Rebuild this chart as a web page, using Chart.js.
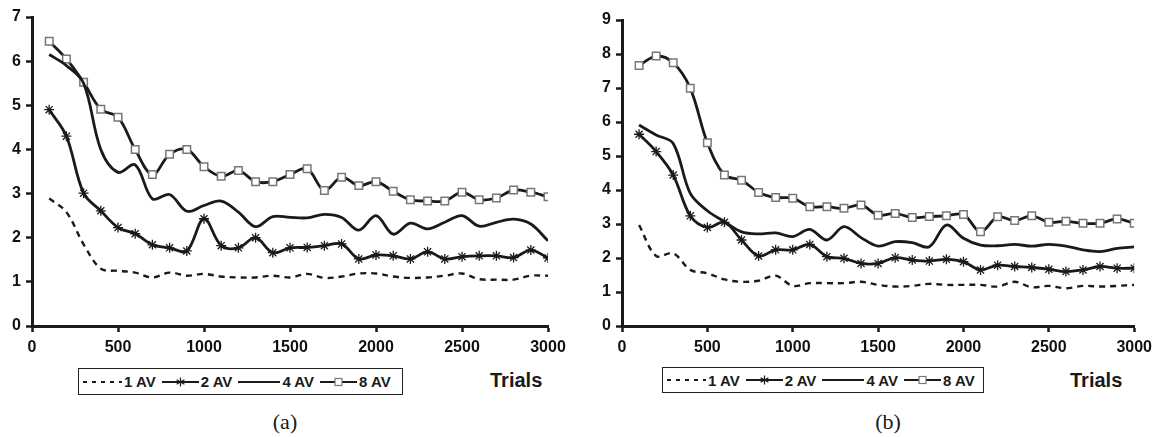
<!DOCTYPE html>
<html>
<head>
<meta charset="utf-8">
<script src="https://cdn.jsdelivr.net/npm/chart.js@4.4.1/dist/chart.umd.min.js"></script>
<style>
  body { margin: 0; background: #fff; width: 1158px; height: 437px; position: relative; overflow: hidden;
         font-family: "Liberation Sans", Arial, sans-serif; color: #1a1a1a; }
  canvas { position: absolute; top: 0; }
  .legend { position: absolute; box-sizing: border-box; border: 1.5px solid #222; display: flex; align-items: center;
            padding-left: 3px; font-weight: bold; font-size: 15px; white-space: nowrap; }
  .legend svg { margin-right: 2px; }
  .legend span { margin-right: 6px; }
  .trials { position: absolute; font-weight: bold; font-size: 20px; line-height: 20px; }
  .caption { position: absolute; font-family: "Liberation Serif", "Times New Roman", serif; font-size: 22px;
             line-height: 24px; transform: translateX(-50%); }
</style>
</head>
<body>
<canvas id="chartA" width="575" height="362" style="left:0px"></canvas>
<canvas id="chartB" width="578" height="362" style="left:580px"></canvas>

<div class="legend" id="legendA" style="left:78px;top:368px;width:325px;height:27px"></div>
<div class="legend" id="legendB" style="left:662px;top:367px;width:322px;height:26px"></div>
<div class="trials" style="left:490px;top:370px">Trials</div>
<div class="trials" style="left:1070px;top:370px">Trials</div>
<div class="caption" style="left:285px;top:410px">(a)</div>
<div class="caption" style="left:888px;top:410px">(b)</div>

<script>
const trials = [100, 200, 300, 400, 500, 600, 700, 800, 900, 1000,
                1100, 1200, 1300, 1400, 1500, 1600, 1700, 1800, 1900, 2000,
                2100, 2200, 2300, 2400, 2500, 2600, 2700, 2800, 2900, 3000];
const seriesLabels = ["1 AV", "2 AV", "4 AV", "8 AV"];

// panel (a)
const av1A = [2.89, 2.58, 1.85, 1.3, 1.25, 1.21, 1.1, 1.21, 1.14, 1.18, 1.12, 1.1, 1.1, 1.14, 1.1,
              1.18, 1.09, 1.12, 1.19, 1.19, 1.12, 1.09, 1.1, 1.14, 1.19, 1.06, 1.05, 1.05, 1.14, 1.14];
const av2A = [4.9, 4.3, 3.01, 2.61, 2.23, 2.09, 1.84, 1.77, 1.7, 2.43, 1.82, 1.77, 2.0, 1.66, 1.77,
              1.78, 1.82, 1.86, 1.52, 1.61, 1.59, 1.52, 1.68, 1.52, 1.57, 1.59, 1.59, 1.55, 1.72, 1.54];
const av4A = [6.15, 5.9, 5.5, 4.0, 3.48, 3.65, 2.88, 2.98, 2.6, 2.73, 2.83, 2.58, 2.25, 2.48, 2.46,
              2.45, 2.53, 2.46, 2.17, 2.5, 2.08, 2.33, 2.2, 2.35, 2.5, 2.26, 2.35, 2.42, 2.31, 1.93];
const av8A = [6.45, 6.05, 5.52, 4.91, 4.73, 4.0, 3.43, 3.89, 4.0, 3.61, 3.39, 3.52, 3.27, 3.27, 3.43,
              3.56, 3.07, 3.37, 3.18, 3.27, 3.05, 2.86, 2.83, 2.83, 3.03, 2.86, 2.9, 3.08, 3.03, 2.93];

// panel (b)
const av1B = [2.97, 2.06, 2.14, 1.65, 1.55, 1.37, 1.3, 1.33, 1.48, 1.18, 1.26, 1.26, 1.26, 1.3, 1.21,
              1.16, 1.18, 1.24, 1.21, 1.21, 1.21, 1.16, 1.3, 1.14, 1.18, 1.11, 1.18, 1.16, 1.18, 1.21];
const av2B = [5.64, 5.13, 4.44, 3.24, 2.9, 3.05, 2.53, 2.06, 2.24, 2.24, 2.4, 2.04, 1.99, 1.84, 1.84,
              2.01, 1.94, 1.91, 1.96, 1.89, 1.65, 1.79, 1.75, 1.72, 1.67, 1.6, 1.65, 1.75, 1.7, 1.7];
const av4B = [5.91, 5.62, 5.37, 3.9, 3.39, 3.07, 2.77, 2.71, 2.74, 2.63, 2.84, 2.53, 2.92, 2.6, 2.35,
              2.48, 2.45, 2.33, 2.97, 2.58, 2.38, 2.36, 2.4, 2.35, 2.4, 2.35, 2.24, 2.19, 2.28, 2.33];
const av8B = [7.66, 7.94, 7.74, 6.99, 5.39, 4.44, 4.29, 3.93, 3.78, 3.76, 3.51, 3.51, 3.46, 3.56, 3.26,
              3.31, 3.19, 3.22, 3.24, 3.28, 2.77, 3.21, 3.1, 3.24, 3.05, 3.08, 3.02, 3.02, 3.15, 3.02];

const ink = "#1a1a1a";
Chart.defaults.font.family = "'Liberation Sans', Arial, sans-serif";
Chart.defaults.font.size = 16;
Chart.defaults.font.weight = 700;
Chart.defaults.color = "#111";

const toPoints = vals => trials.map((t, i) => ({ x: t, y: vals[i] }));

function buildChart(id, s1, s2, s4, s8, yMax, axisWidth, padTop, padRight) {
  const base = { borderColor: ink, borderWidth: 2.8, tension: 0.35, pointRadius: 0, fill: false };
  const tickFont = { family: "'Liberation Sans', Arial, sans-serif", size: 16, weight: 700 };
  new Chart(document.getElementById(id), {
    type: "line",
    data: {
      datasets: [
        { ...base, label: seriesLabels[0], data: toPoints(s1), borderDash: [6, 5], borderWidth: 2.4 },
        { ...base, label: seriesLabels[1], data: toPoints(s2), pointStyle: "star", pointRadius: 5,
          pointBorderColor: ink, pointBorderWidth: 1.3 },
        { ...base, label: seriesLabels[2], data: toPoints(s4) },
        { ...base, label: seriesLabels[3], data: toPoints(s8), pointStyle: "rect", pointRadius: 5.3,
          pointBackgroundColor: "#fff", pointBorderColor: "#777", pointBorderWidth: 1.5 }
      ]
    },
    options: {
      responsive: false,
      animation: false,
      layout: { padding: { top: padTop, right: padRight, left: 0, bottom: 0 } },
      plugins: { legend: { display: false }, tooltip: { enabled: false } },
      scales: {
        x: {
          type: "linear", min: 0, max: 3000,
          ticks: { stepSize: 500, font: tickFont, color: "#111", padding: 6, maxRotation: 0,
                   callback: v => String(v) },
          grid: { drawOnChartArea: false, drawTicks: true, tickLength: 6, tickWidth: 2.5, tickColor: ink },
          border: { display: true, color: ink, width: 3 },
          afterFit: s => { s.height = 36; }
        },
        y: {
          min: 0, max: yMax,
          ticks: { stepSize: 1, font: tickFont, color: "#111", padding: 5, callback: v => String(v) },
          grid: { drawOnChartArea: false, drawTicks: true, tickLength: 6, tickWidth: 2.5, tickColor: ink },
          border: { display: true, color: ink, width: 3 },
          afterFit: s => { s.width = axisWidth; }
        }
      }
    }
  });
}

buildChart("chartA", av1A, av2A, av4A, av8A, 7, 32, 17, 27);
buildChart("chartB", av1B, av2B, av4B, av8B, 9, 42, 20, 22);

// legend samples
const samples = [
  `<svg width="40" height="12"><line x1="1" y1="6" x2="40" y2="6" stroke="${ink}" stroke-width="2" stroke-dasharray="4 5"/></svg>`,
  `<svg width="37" height="12"><line x1="0" y1="6" x2="37" y2="6" stroke="${ink}" stroke-width="2"/>
     <g stroke="${ink}" stroke-width="1.2"><line x1="18.5" y1="1.5" x2="18.5" y2="10.5"/>
     <line x1="14.6" y1="3.7" x2="22.4" y2="8.3"/><line x1="14.6" y1="8.3" x2="22.4" y2="3.7"/></g></svg>`,
  `<svg width="42" height="12"><line x1="0" y1="6" x2="42" y2="6" stroke="${ink}" stroke-width="2"/></svg>`,
  `<svg width="37" height="12"><line x1="0" y1="6" x2="37" y2="6" stroke="${ink}" stroke-width="2"/>
     <rect x="15" y="2.5" width="7" height="7" fill="#fff" stroke="#777" stroke-width="1.2"/></svg>`
];
["legendA", "legendB"].forEach(id => {
  const box = document.getElementById(id);
  box.innerHTML = seriesLabels.map((l, i) => `${samples[i]}<span>${l}</span>`).join("");
});
</script>
</body>
</html>
